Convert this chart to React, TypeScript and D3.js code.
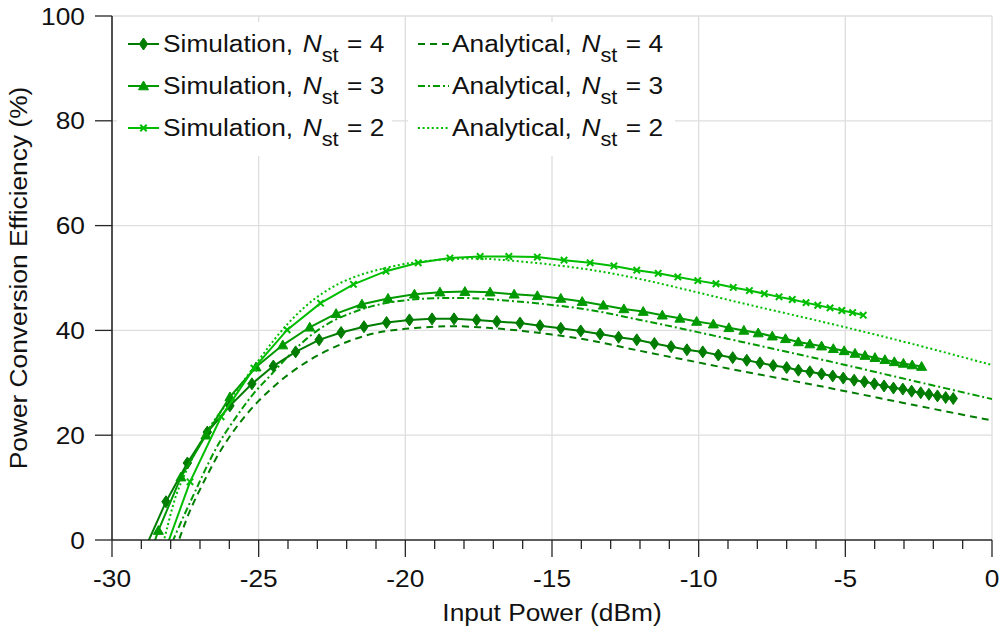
import React from "react";
import * as d3 from "d3";

// ---------- data ----------
const xTickValues = [-30, -25, -20, -15, -10, -5, 0];
const yTickValues = [0, 20, 40, 60, 80, 100];
const xLabel = "Input Power (dBm)";
const yLabel = "Power Conversion Efficiency (%)";

// Simulation, N_st = 4 (diamonds)
const simN4: [number, number][] = [
  [-28.91, -2.1], [-28.16, 7.3], [-27.43, 14.7], [-26.75, 20.6], [-25.98, 25.6], [-25.23, 29.8],
  [-24.5, 33.2], [-23.74, 35.9], [-22.94, 38.2], [-22.19, 39.6], [-21.41, 40.7], [-20.64, 41.5],
  [-19.86, 42.0], [-19.09, 42.2], [-18.34, 42.2], [-17.57, 42.0], [-16.88, 41.7], [-16.09, 41.4],
  [-15.41, 40.9], [-14.7, 40.4], [-14.02, 39.9], [-13.36, 39.3], [-12.73, 38.7], [-12.11, 38.2],
  [-11.51, 37.5], [-10.94, 36.9], [-10.4, 36.3], [-9.86, 35.9], [-9.33, 35.3], [-8.84, 34.8],
  [-8.36, 34.3], [-7.91, 33.8], [-7.46, 33.3], [-7.0, 32.9], [-6.6, 32.4], [-6.21, 32.1],
  [-5.81, 31.7], [-5.43, 31.3], [-5.07, 30.9], [-4.7, 30.5], [-4.35, 30.2], [-4.01, 29.8],
  [-3.68, 29.4], [-3.36, 29.0], [-3.04, 28.8], [-2.74, 28.4], [-2.43, 28.1], [-2.15, 27.8],
  [-1.86, 27.5], [-1.58, 27.2], [-1.32, 27.0],
];

// Simulation, N_st = 3 (triangles)
const simN3: [number, number][] = [
  [-29.2, -11.0], [-28.42, 1.8], [-27.65, 12.0], [-26.8, 20.0], [-25.98, 27.3], [-25.09, 33.0],
  [-24.18, 37.2], [-23.26, 40.6], [-22.36, 43.2], [-21.48, 45.0], [-20.59, 46.1], [-19.69, 46.9],
  [-18.82, 47.3], [-17.97, 47.4], [-17.11, 47.3], [-16.29, 46.9], [-15.5, 46.6], [-14.7, 46.1],
  [-13.97, 45.5], [-13.25, 44.8], [-12.55, 44.1], [-11.89, 43.6], [-11.24, 42.9], [-10.64, 42.3],
  [-10.07, 41.7], [-9.5, 41.2], [-8.97, 40.5], [-8.46, 40.0], [-7.97, 39.5], [-7.49, 38.9],
  [-7.04, 38.4], [-6.6, 37.8], [-6.21, 37.4], [-5.81, 37.0], [-5.41, 36.5], [-5.04, 36.1],
  [-4.67, 35.6], [-4.33, 35.2], [-3.99, 34.8], [-3.65, 34.4], [-3.33, 34.0], [-3.02, 33.7],
  [-2.72, 33.4], [-2.4, 33.1],
];

// Simulation, N_st = 2 (crosses)
const simN2: [number, number][] = [
  [-28.4, -5.3], [-27.34, 11.1], [-26.28, 23.5], [-25.16, 32.8], [-24.03, 40.1], [-22.89, 45.2],
  [-21.77, 48.8], [-20.66, 51.3], [-19.56, 52.9], [-18.48, 53.8], [-17.45, 54.1], [-16.47, 54.1],
  [-15.5, 54.0], [-14.59, 53.4], [-13.7, 52.9], [-12.89, 52.3], [-12.11, 51.5], [-11.38, 50.9],
  [-10.71, 50.2], [-10.03, 49.5], [-9.41, 48.9], [-8.82, 48.2], [-8.27, 47.6], [-7.76, 47.0],
  [-7.26, 46.4], [-6.81, 45.9], [-6.34, 45.3], [-5.94, 44.8], [-5.52, 44.3], [-5.12, 43.8],
  [-4.75, 43.4], [-4.39, 42.9],
];

// Analytical curves
const anaN4: [number, number][] = [
  [-28.0, -4.0], [-27.72, 0], [-27.34, 5.6], [-26.77, 12.2], [-26.26, 17.4], [-25.64, 22.4],
  [-25.01, 26.5], [-24.5, 29.2], [-24.1, 31.1], [-23.5, 33.5], [-23.0, 35.2], [-22.3, 37.1],
  [-21.7, 38.4], [-21.0, 39.5], [-20.0, 40.3], [-19.0, 40.7], [-18.3, 40.8], [-17.2, 40.5],
  [-16.0, 39.9], [-15.0, 39.2], [-13.7, 38.1], [-12.0, 36.1], [-10.3, 34.2], [-8.6, 32.3],
  [-6.9, 30.5], [-5.0, 28.4], [-2.7, 25.8], [0, 22.8],
];
const anaN3: [number, number][] = [
  [-28.1, -3.0], [-27.91, 0], [-27.51, 5.1], [-27.17, 9.2], [-26.77, 14.0], [-26.32, 18.8],
  [-25.75, 23.6], [-25.18, 27.9], [-24.6, 31.4], [-24.0, 35.0], [-23.3, 38.7], [-22.5, 41.7],
  [-21.7, 43.6], [-21.0, 44.8], [-20.2, 45.6], [-19.5, 46.0], [-18.5, 46.2], [-17.5, 46.1],
  [-16.8, 45.8], [-15.4, 45.1], [-13.7, 43.9], [-12.0, 42.0], [-10.3, 40.0], [-8.6, 37.9],
  [-6.9, 35.8], [-5.0, 33.4], [-2.7, 30.4], [0, 26.9],
];
const anaN2: [number, number][] = [
  [-28.4, -3.0], [-28.23, 0], [-27.79, 8.9], [-27.23, 15.9], [-26.66, 21.6], [-26.09, 26.0],
  [-25.52, 30.3], [-25.0, 34.3], [-24.5, 38.0], [-24.0, 41.3], [-23.5, 44.1], [-23.0, 46.4],
  [-22.5, 48.2], [-22.0, 49.6], [-21.3, 51.0], [-20.2, 52.5], [-19.5, 53.1], [-18.5, 53.6],
  [-17.5, 53.7], [-16.8, 53.5], [-15.1, 52.6], [-13.5, 51.4], [-12.0, 49.8], [-10.3, 47.6],
  [-8.6, 45.3], [-6.9, 43.1], [-5.0, 40.6], [-2.7, 37.4], [0, 33.4],
];

const simNames = ["Simulation, ", "Simulation, ", "Simulation, "];
const anaNames = ["Analytical, ", "Analytical, ", "Analytical, "];
const nstValues = ["4", "3", "2"];

// ---------- styles ----------
const C4 = "#007d00";
const C3 = "#009a00";
const C2 = "#00bd00";
const FONT = "'Liberation Sans', Arial, Helvetica, sans-serif";
const FS = 23.5;
const SX = 1.12;
const TXT = "#111111";
const AX = "#262626";
const GRID = "#dedede";

const PL = 112, PR = 992, PT = 16, PB = 540;

type MarkerKind = "diamond" | "triangle" | "cross";

function Marker({ kind, x, y, color }: { kind: MarkerKind; x: number; y: number; color: string }) {
  if (kind === "diamond") {
    return <path d={`M${x},${y - 6}L${x + 4.2},${y}L${x},${y + 6}L${x - 4.2},${y}Z`} fill={color} stroke={color} strokeWidth={1} />;
  }
  if (kind === "triangle") {
    return <path d={`M${x},${y - 5}L${x + 5},${y + 3.8}L${x - 5},${y + 3.8}Z`} fill={color} stroke={color} strokeWidth={1} />;
  }
  const s = 3.2;
  return (
    <path d={`M${x - s},${y - s}L${x + s},${y + s}M${x - s},${y + s}L${x + s},${y - s}`} stroke={color} strokeWidth={2} fill="none" />
  );
}

function LegendText({ x, y, name, n }: { x: number; y: number; name: string; n: string }) {
  return (
    <text transform={`translate(${x},${y}) scale(${SX},1)`} fontFamily={FONT} fontSize={FS} fill={TXT}>
      {name}
      <tspan dx={2} fontStyle="italic">N</tspan>
      <tspan dy={10} fontSize={19.5}>st</tspan>
      <tspan dy={-10} dx={1}>{` = ${n}`}</tspan>
    </text>
  );
}

export default function App() {
  const x = d3.scaleLinear().domain([-30, 0]).range([PL, PR]);
  const y = d3.scaleLinear().domain([0, 100]).range([PB, PT]);
  const xMinor = x.ticks(30);

  const lineSim = d3.line<[number, number]>().x((d) => x(d[0])).y((d) => y(d[1]));
  const lineAna = d3
    .line<[number, number]>()
    .x((d) => x(d[0]))
    .y((d) => y(d[1]))
    .curve(d3.curveCatmullRom.alpha(0.5));

  const sims: { data: [number, number][]; color: string; kind: MarkerKind }[] = [
    { data: simN4, color: C4, kind: "diamond" },
    { data: simN3, color: C3, kind: "triangle" },
    { data: simN2, color: C2, kind: "cross" },
  ];
  const anas: { data: [number, number][]; color: string; dash: string }[] = [
    { data: anaN4, color: C4, dash: "7,5" },
    { data: anaN3, color: C3, dash: "7,3,2,3" },
    { data: anaN2, color: C2, dash: "2,2.6" },
  ];

  const rowY = [52, 94, 136];

  return (
    <svg width={1000} height={635} style={{ display: "block", position: "absolute", left: 0, top: 0, background: "#fff" }}>
      <defs>
        <clipPath id="plotClip">
          <rect x={PL} y={PT} width={PR - PL} height={PB - PT} />
        </clipPath>
      </defs>
      <rect x={0} y={0} width={1000} height={635} fill="#fff" />

      {/* grid */}
      {xTickValues.filter((v) => v !== -30).map((v) => (
        <line key={"gx" + v} x1={x(v)} x2={x(v)} y1={PT} y2={PB} stroke={GRID} strokeWidth={1.3} />
      ))}
      {yTickValues.filter((v) => v !== 0).map((v) => (
        <line key={"gy" + v} x1={PL} x2={PR} y1={y(v)} y2={y(v)} stroke={GRID} strokeWidth={1.3} />
      ))}

      {/* curves */}
      <g clipPath="url(#plotClip)">
        {anas.map((a, i) => (
          <path key={"a" + i} d={lineAna(a.data) || ""} fill="none" stroke={a.color} strokeWidth={2} strokeDasharray={a.dash} />
        ))}
        {sims.map((s, i) => (
          <g key={"s" + i}>
            <path d={lineSim(s.data) || ""} fill="none" stroke={s.color} strokeWidth={2} />
            {s.data
              .filter((d) => d[1] >= 0)
              .map((d, j) => (
                <Marker key={j} kind={s.kind} x={x(d[0])} y={y(d[1])} color={s.color} />
              ))}
          </g>
        ))}
      </g>

      {/* legends (two boxes) */}
      <rect x={117} y={22} width={275} height={134} fill="#fff" />
      <rect x={408} y={22} width={267} height={134} fill="#fff" />
      {sims.map((s, i) => (
        <g key={"ls" + i}>
          <line x1={128} x2={159} y1={rowY[i] - 8} y2={rowY[i] - 8} stroke={s.color} strokeWidth={2} />
          <Marker kind={s.kind} x={143.5} y={rowY[i] - 8} color={s.color} />
          <LegendText x={163} y={rowY[i]} name={simNames[i]} n={nstValues[i]} />
        </g>
      ))}
      {anas.map((a, i) => (
        <g key={"la" + i}>
          <line x1={418} x2={449} y1={rowY[i] - 8} y2={rowY[i] - 8} stroke={a.color} strokeWidth={2} strokeDasharray={a.dash} />
          <LegendText x={452} y={rowY[i]} name={anaNames[i]} n={nstValues[i]} />
        </g>
      ))}

      {/* axes */}
      <line x1={PL} x2={PR} y1={PB} y2={PB} stroke={AX} strokeWidth={1.6} />
      <line x1={PL} x2={PL} y1={PT} y2={PB} stroke={AX} strokeWidth={1.6} />
      {xMinor.map((v) => {
        const major = xTickValues.includes(v);
        return <line key={"tx" + v} x1={x(v)} x2={x(v)} y1={PB} y2={PB + (major ? 17 : 9)} stroke={AX} strokeWidth={1.3} />;
      })}
      {yTickValues.map((v) => (
        <line key={"ty" + v} x1={PL - 17} x2={PL} y1={y(v)} y2={y(v)} stroke={AX} strokeWidth={1.3} />
      ))}
      {xTickValues.map((v) => (
        <text key={"lx" + v} transform={`translate(${x(v)},587) scale(${SX},1)`} textAnchor="middle" fontFamily={FONT} fontSize={FS} fill={TXT}>
          {String(v)}
        </text>
      ))}
      {yTickValues.map((v) => (
        <text key={"ly" + v} transform={`translate(85,${y(v) + 8.5}) scale(${SX},1)`} textAnchor="end" fontFamily={FONT} fontSize={FS} fill={TXT}>
          {String(v)}
        </text>
      ))}
      <text transform={`translate(552,621) scale(${SX},1)`} textAnchor="middle" fontFamily={FONT} fontSize={FS} fill={TXT}>
        {xLabel}
      </text>
      <text transform={`translate(27,278) rotate(-90) scale(${SX},1)`} textAnchor="middle" fontFamily={FONT} fontSize={FS} fill={TXT}>
        {yLabel}
      </text>
    </svg>
  );
}
